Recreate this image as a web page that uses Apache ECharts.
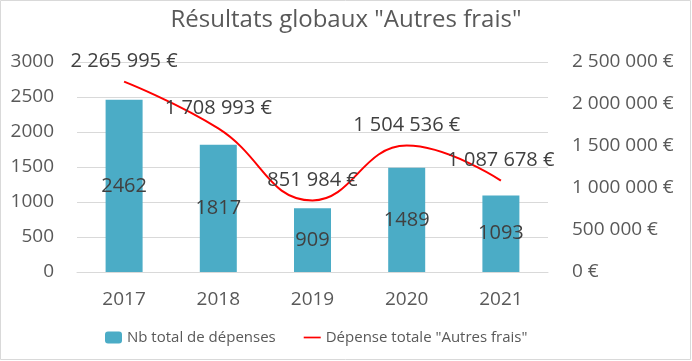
<!DOCTYPE html>
<html><head><meta charset="utf-8">
<script src="https://cdn.jsdelivr.net/npm/echarts@6/dist/echarts.min.js"></script>
<style>html,body{margin:0;padding:0;background:#fff}#c{width:692px;height:361px}</style>
</head><body><div id="c"></div>
<script>
const categories = ['2017','2018','2019','2020','2021'];
const nbDepenses = [2462, 1817, 909, 1489, 1093];
const depenseTotale = [2265995, 1708993, 851984, 1504536, 1087678];
const leftTicks = [0, 500, 1000, 1500, 2000, 2500, 3000];
const rightTicks = [0, 500000, 1000000, 1500000, 2000000, 2500000];

function fmt(v){ return String(Math.round(v)).replace(/\B(?=(\d{3})+(?!\d))/g,' ') + ' €'; }
const FONT = '"Open Sans", sans-serif';
const chart = echarts.init(document.getElementById('c'));
chart.setOption({
  animation:false,
  textStyle:{fontFamily:FONT},
  title:{text:'Résultats globaux "Autres frais"', left:'center', top:3,
    textStyle:{fontFamily:FONT,fontSize:24,fontWeight:'normal',color:'#595959'}},
  graphic:[{type:'rect',shape:{x:0.5,y:0.5,width:690,height:359},style:{fill:'none',stroke:'#d9d9d9',lineWidth:1},silent:true}],
  legend:{bottom:11, left:100, itemGap:28, itemWidth:17, itemHeight:12,
    textStyle:{fontFamily:FONT,fontSize:15,color:'#595959'},
    data:[{name:'Nb total de dépenses'},{name:'Dépense totale "Autres frais"', icon:'path://M0,5 L20,5 L20,7 L0,7 Z'}]},
  grid:{left:77,right:144,top:62,bottom:89},
  xAxis:{type:'category',data:categories,axisTick:{show:false},
    axisLine:{show:true,lineStyle:{color:'#d9d9d9'}},
    axisLabel:{fontSize:19,color:'#595959',margin:18,fontFamily:FONT}},
  yAxis:[
    {type:'value',min:leftTicks[0],max:leftTicks[leftTicks.length-1],interval:500,
     axisLabel:{fontSize:19,color:'#595959',margin:23,fontFamily:FONT,formatter:v=>String(v)},
     splitLine:{lineStyle:{color:'#d9d9d9'}},axisLine:{show:false},axisTick:{show:false}},
    {type:'value',min:rightTicks[0],max:rightTicks[rightTicks.length-1],interval:500000,
     axisLabel:{fontSize:19,color:'#595959',margin:24,fontFamily:FONT,formatter:fmt},
     splitLine:{show:false},axisLine:{show:false},axisTick:{show:false}}
  ],
  series:[
    {name:'Nb total de dépenses',type:'bar',data:nbDepenses,barWidth:37,
     itemStyle:{color:'#4BACC6'},
     label:{show:true,position:'inside',fontSize:20,color:'#404040',fontFamily:FONT}},
    {name:'Dépense totale "Autres frais"',type:'line',yAxisIndex:1,data:depenseTotale,
     smooth:0.45,symbol:'circle',symbolSize:0,showSymbol:true,
     lineStyle:{color:'#FF0000',width:2},itemStyle:{color:'#FF0000'},
     label:{show:true,position:'top',distance:10,fontSize:20,color:'#404040',fontFamily:FONT,
       formatter:p=>fmt(p.value)}}
  ]
});
</script></body></html>
